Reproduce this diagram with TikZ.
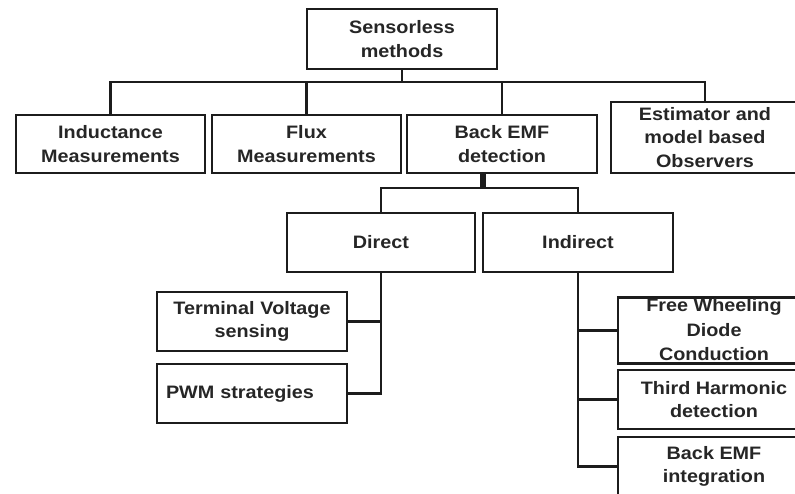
\documentclass[tikz,border=0pt]{standalone}
\usepackage{fontspec}
\setmainfont{Liberation Sans}[FakeStretch=1.1]
\usepackage{tikz}
\usetikzlibrary{positioning,calc}
\definecolor{lineblk}{HTML}{1C1C1C}
\definecolor{textblk}{HTML}{262626}

\begin{document}
\begin{tikzpicture}[x=1pt,y=-1pt,
    box/.style={draw=lineblk,line width=2.2pt,fill=white,inner sep=0pt,
      minimum width=190pt,minimum height=59pt,align=center,
      font=\fontsize{18}{23.5}\selectfont\bfseries,text=textblk},
    wire/.style={draw=lineblk,line width=2.2pt},
    stub/.style={draw=lineblk,line width=6.5pt}]
  \useasboundingbox (0,0) rectangle (795,493);
  \clip (0,0) rectangle (795,493);

  % Root
  \node[box,minimum height=60pt] (root) at (402,39) {Sensorless\\methods};

  % First level
  \node[box,minimum width=189pt,minimum height=58pt] (induct) at (110.5,144)
    {Inductance\\Measurements};
  \node[box,minimum width=189pt,minimum height=58pt] (flux) at (306.5,144)
    {Flux\\Measurements};
  \node[box,minimum height=58pt] (bemf) at (502,144) {Back EMF\\detection};
  \node[box,minimum width=188pt,minimum height=71pt] (estim) at (705,137.5)
    {Estimator and\\model based\\Observers};

  % Back EMF branches
  \node[box,minimum width=188pt] (direct) at (381,242.5) {Direct};
  \node[box] (indirect) at (578,242.5) {Indirect};

  % Direct methods
  \node[box,text width=172pt,align=left] (termv) at (252,321.5)
    {\centering Terminal Voltage\\sensing\par};
  \node[box,text width=172pt,align=left] (pwm) at (252,393.5)
    {PWM strategies};

  % Indirect methods
  \node[box,minimum width=192pt,minimum height=65pt] (fwd) at (714,330.5) {};
  \node[font=\fontsize{18}{24.5}\selectfont\bfseries,text=textblk,align=center,
    inner sep=0pt] (fwdtxt) at (714,330) {Free Wheeling\\Diode\\Conduction};
  \node[box,minimum width=192pt] (third) at (714,399.5)
    {Third Harmonic\\detection};
  \node[box,minimum width=192pt] (bemfint) at (714,466.5)
    {Back EMF\\integration};
  % redraw border over the text
  \draw[wire] (fwd.south west) -- (fwd.south east);
  \draw[wire] (fwd.north west) -- (fwd.north east);

  % Tree connectors
  \coordinate (bus) at (402,82);
  \draw[wire] (root.south) -- (bus);
  \draw[wire] (induct.north) |- (bus) -| (estim.north);
  \draw[wire] (flux.north) -- (flux.north |- bus);
  \draw[wire] (bemf.north) -- (bemf.north |- bus);

  \coordinate (split) at (483,188);
  \draw[stub] (split |- bemf.south) -- (split);
  \draw[wire] (direct.north) |- (split) -| (indirect.north);

  \draw[wire] (direct.south) |- (pwm.east);
  \draw[wire] (termv.east) -- (termv.east -| direct.south);

  \draw[wire] (indirect.south) |- (bemfint.west);
  \draw[wire] (fwd.west) -- (fwd.west -| indirect.south);
  \draw[wire] (third.west) -- (third.west -| indirect.south);
\end{tikzpicture}
\end{document}
